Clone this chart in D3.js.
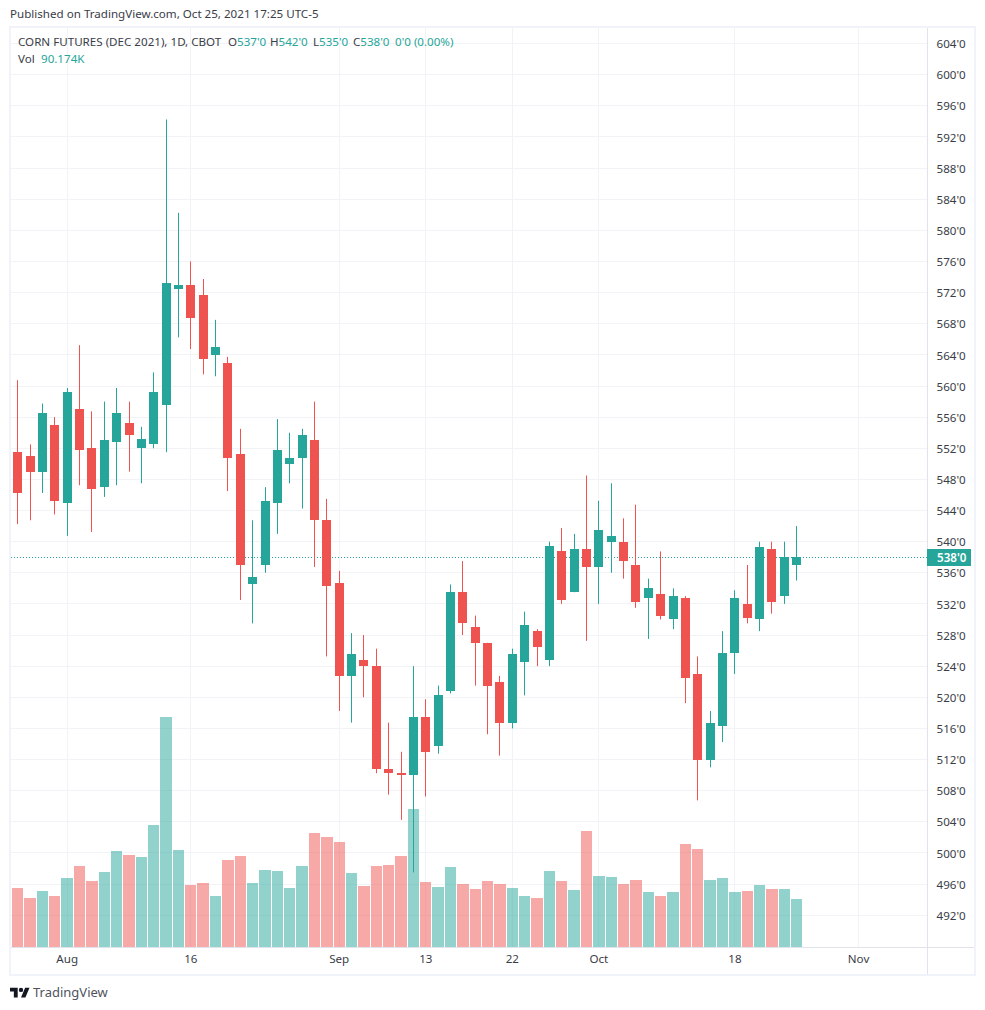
<!DOCTYPE html>
<html>
<head>
<meta charset="utf-8">
<script src="https://cdn.jsdelivr.net/npm/d3@7/dist/d3.min.js"></script>
<style>
html,body{margin:0;padding:0;background:#fff;}
svg{display:block;}
text{font-family:"Noto Sans",sans-serif;}
</style>
</head>
<body>
<svg id="chart" width="985" height="1010"></svg>
<script>
const opens=[551.5,551,549,555,545,557,552,547,552.75,555.25,552,552.5,557.5,572.5,573,571.75,564,563,551.25,534.5,537,545,550,550.75,553,542.75,534.75,522.75,524.75,524,510.75,510.25,510,517.5,513.75,520.75,533.5,529,527,522,516.75,524.5,528.5,524.75,538.75,533.5,539,536.75,540,540,537,532.75,533.25,530,532.75,523,512,516.25,525.75,532,530,539,533,537];
const highs=[560.75,552.5,557.75,556,559.75,565.25,556.75,558,559.75,558,554.75,561.75,594.25,582.25,576,573.75,568.5,563.75,554.5,542.75,547,555.75,554,554.5,558,545.5,536.25,528.25,528,526.25,516.75,513,524,519.75,521.5,534.5,537.5,530.5,527,522.75,526.25,531,528.75,540,541.75,541,548.5,545.25,547.5,543,544.75,535.25,538.75,534,533,525.25,518.25,528.5,533.75,537,540,540,540,542];
const lows=[542.25,542.75,546.25,543.5,540.75,547.25,541.25,545.75,547.25,549,547.5,552,551.5,566.25,564.75,561.5,561.25,546.5,532.5,529.5,536,541,547.5,544.25,536.75,525.25,518.25,516.75,520,510.25,507.5,504.25,497.5,507.25,512.75,520.5,528,521.5,515.25,512.5,516,520.25,524,524,532,533.5,527.25,532,536,535.25,531.5,527.5,530,528.75,519.25,506.75,511,514.25,523,529.5,528.5,530.75,532,535];
const closes=[546.25,549,556.5,545.25,559.25,551.75,546.75,553,556.5,553.75,553.25,559.25,573.25,573,568.75,563.5,565,550.75,537,535.5,545.25,551.75,550.75,553.75,542.75,534.25,522.75,525.5,524,510.75,510.25,510,517.5,513,520.25,533.5,529.5,527,521.5,516.75,525.5,529.25,526.5,539.5,532.5,539,536.75,541.5,540.75,537.5,532.25,534,530.5,533,522.5,512,516.75,525.75,532.75,530.25,539.25,532.25,538,538];
const volumes=[110.8,92,105,96,130,152,124,141,180,173,169,229,432,182,116,120,96,163,171,120,145,143,111,152,214,207,197,139,115,152,154,171,259,122,113,150,118,109,124,118,111,96,92,143,124,107,218,133,132,118,126,103,96,103,194,184,126,130,103,105,116,109,109,90.174];
const priceTicks=[604,600,596,592,588,584,580,576,572,568,564,560,556,552,548,544,540,536,532,528,524,520,516,512,508,504,500,496,492];
const dateTickIndex=[4,14,26,33,40,47,58,68];
const dateTickLabels=["Aug","16","Sep","13","22","Oct","18","Nov"];
const lastPrice=538;

const UP="#26a69a",DOWN="#ef5350",GRID="#f2f3f6",FRAME="#f0f3fa",AXIS="#e0e3eb",TXT="#3a3d47",FONT='"Noto Sans",sans-serif',FS=11.6;
const svg=d3.select("#chart");
const L=11,R=975,T=28,B=975,PX=927,PY=947;

const x=d3.scaleLinear().domain([0,63]).range([17.72,796.72]);
const y=d3.scaleLinear().domain([604,492]).range([43.6,915.2]);
const yVol=d3.scaleLinear().domain([0,432]).range([PY,717]);
const cx=i=>Math.floor(x(i))+.5;
const vLeft=i=>Math.round(x(i)-5.7);
const isUp=i=>closes[i]>=opens[i];
const idx=d3.range(opens.length);

svg.append("text").attr("x",10).attr("y",18).attr("font-size",FS).attr("fill",TXT).text("Published on TradingView.com, Oct 25, 2021 17:25 UTC-5");

// frame
svg.append("rect").attr("x",10).attr("y",27).attr("width",965).attr("height",948).attr("fill","none").attr("stroke",FRAME).attr("stroke-width",2);

// grid
svg.append("g").selectAll("line").data(priceTicks).join("line")
  .attr("x1",L).attr("x2",PX).attr("y1",d=>Math.floor(y(d))+.5).attr("y2",d=>Math.floor(y(d))+.5).attr("stroke",GRID);
svg.append("g").selectAll("line").data(dateTickIndex).join("line")
  .attr("x1",d=>cx(d)).attr("x2",d=>cx(d)).attr("y1",T).attr("y2",PY).attr("stroke",GRID);

// volume
svg.append("g").selectAll("rect").data(idx).join("rect")
  .attr("x",vLeft).attr("width",i=>vLeft(i+1)-vLeft(i)-1)
  .attr("y",i=>Math.round(yVol(volumes[i]))).attr("height",i=>PY-Math.round(yVol(volumes[i])))
  .attr("fill",i=>isUp(i)?UP:DOWN).attr("fill-opacity",.5);

// last price line
svg.append("line").attr("x1",L).attr("x2",PX).attr("y1",Math.floor(y(lastPrice))+.5).attr("y2",Math.floor(y(lastPrice))+.5)
  .attr("stroke",UP).attr("stroke-dasharray","1 2");

// candles
const c=svg.append("g");
c.selectAll("line").data(idx).join("line")
  .attr("x1",cx).attr("x2",cx).attr("y1",i=>y(highs[i])).attr("y2",i=>y(lows[i]))
  .attr("stroke",i=>isUp(i)?UP:DOWN);
c.selectAll("rect").data(idx).join("rect")
  .attr("x",i=>cx(i)-4.5).attr("width",9)
  .attr("y",i=>Math.round(y(Math.max(opens[i],closes[i]))))
  .attr("height",i=>Math.max(2,Math.round(y(Math.min(opens[i],closes[i])))-Math.round(y(Math.max(opens[i],closes[i])))))
  .attr("fill",i=>isUp(i)?UP:DOWN);

// axes
const ax=svg.append("g").attr("transform",`translate(${PX+.5},0.4)`)
  .call(d3.axisRight(y).tickValues(priceTicks).tickSize(0).tickPadding(9).tickFormat(d=>d+"'0"));
ax.select(".domain").remove();
ax.selectAll("text").attr("font-size",FS).attr("font-family",FONT).attr("fill",TXT);
const bx=svg.append("g").attr("transform",`translate(-0.5,${PY+.5})`)
  .call(d3.axisBottom(x).tickValues(dateTickIndex).tickSize(0).tickPadding(7).tickFormat((d,i)=>dateTickLabels[i]));
bx.select(".domain").remove();
bx.selectAll("text").attr("font-size",FS).attr("font-family",FONT).attr("fill",TXT);
svg.append("line").attr("x1",L).attr("x2",R-1).attr("y1",PY+.5).attr("y2",PY+.5).attr("stroke",AXIS);
svg.append("line").attr("x1",PX+.5).attr("x2",PX+.5).attr("y1",T).attr("y2",B-1).attr("stroke",AXIS);

// last price label
const ly=Math.floor(y(lastPrice));
svg.append("rect").attr("x",PX).attr("y",ly-8).attr("width",44).attr("height",17).attr("fill",UP);
svg.append("text").attr("x",PX+10).attr("y",ly+4.5).attr("font-size",FS).attr("font-weight",600).attr("fill","#fff").text(lastPrice+"'0");

// legend
const leg=svg.append("text").attr("x",18).attr("y",46).attr("font-size",FS).attr("fill",TXT);
leg.append("tspan").text("CORN FUTURES (DEC 2021), 1D, CBOT");
[["O","537'0",228],["H","542'0",270],["L","535'0",313],["C","538'0",353]].forEach(([k,v,px])=>{
  leg.append("tspan").attr("x",px).text(k);
  leg.append("tspan").attr("fill",UP).text(v);
});
leg.append("tspan").attr("x",395).attr("fill",UP).text("0'0 (0.00%)");
const vol=svg.append("text").attr("x",18).attr("y",63).attr("font-size",FS).attr("fill",TXT);
vol.append("tspan").text("Vol");
vol.append("tspan").attr("x",41).attr("fill",UP).text("90.174K");

// logo
const logo=svg.append("g").attr("transform","translate(10,985.5) scale(.55)").attr("fill","#131722");
logo.append("path").attr("d","M14 22H7V11H0V4h14v18zM28 22h-8l7.5-18h8L28 22z");
logo.append("circle").attr("cx",20).attr("cy",8).attr("r",4);
svg.append("text").attr("x",33).attr("y",997).attr("font-size",13).attr("fill","#50535e").text("TradingView");
</script>
</body>
</html>
